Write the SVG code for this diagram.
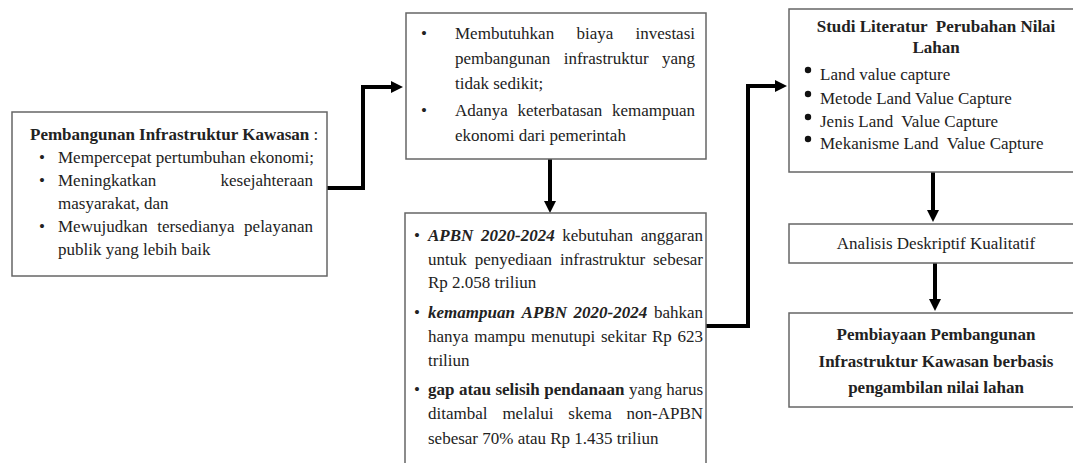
<svg xmlns="http://www.w3.org/2000/svg" width="1073" height="463" viewBox="0 0 1073 463">
<defs>
<marker id="arr" markerUnits="userSpaceOnUse" markerWidth="12" markerHeight="12" refX="2" refY="6" orient="auto">
<path d="M0,0 L12,6 L0,12 z" fill="#000"/>
</marker>
<style>
.box{fill:#fff;stroke:#666;stroke-width:1.5}
.t{font-family:"Liberation Serif","Times New Roman",serif;font-size:17px;fill:#222}
.b{font-weight:bold}
.bi{font-weight:bold;font-style:italic}
.c{text-anchor:middle}
.e{text-anchor:end}
.pre{white-space:pre}
.con{fill:none;stroke:#000;stroke-width:4}
</style>
</defs>
<rect width="1073" height="463" fill="#fff"/>
<g id="connectors">
<path class="con" d="M327,188 H363 V87 H393" marker-end="url(#arr)"/>
<path class="con" d="M550,159 V203" marker-end="url(#arr)"/>
<path class="con" d="M706,326 H748 V86 H777" marker-end="url(#arr)"/>
<path class="con" d="M933,172 V212" marker-end="url(#arr)"/>
<path class="con" d="M935,263 V301" marker-end="url(#arr)"/>
</g>
<g id="node-pembangunan">
<rect class="box" x="12" y="112" width="315" height="164"/>
<text class="t" x="30" y="140"><tspan class="b">Pembangunan Infrastruktur Kawasan</tspan> :</text>
<text class="t" x="39" y="163">•</text>
<text class="t" x="58" y="163">Mempercepat pertumbuhan ekonomi;</text>
<text class="t" x="39" y="186">•</text>
<text class="t" x="58" y="186">Meningkatkan</text>
<text class="t e" x="313" y="186">kesejahteraan</text>
<text class="t" x="58" y="209">masyarakat, dan</text>
<text class="t" x="39" y="232">•</text>
<text class="t" x="58" y="232">Mewujudkan<tspan x="157.2">tersedianya</tspan></text>
<text class="t e" x="313" y="232">pelayanan</text>
<text class="t" x="58" y="255">publik yang lebih baik</text>
</g>
<g id="node-kebutuhan">
<rect class="box" x="406" y="13" width="300" height="146"/>
<text class="t" x="421" y="39">•</text>
<text class="t" x="455" y="39">Membutuhkan<tspan x="576.5">biaya</tspan></text>
<text class="t e" x="695" y="39">investasi</text>
<text class="t" x="455" y="64">pembangunan<tspan x="563.7">infrastruktur</tspan></text>
<text class="t e" x="695" y="64">yang</text>
<text class="t" x="455" y="89">tidak sedikit;</text>
<text class="t" x="421" y="116">•</text>
<text class="t" x="455" y="116">Adanya<tspan x="517.4">keterbatasan</tspan></text>
<text class="t e" x="695" y="116">kemampuan</text>
<text class="t" x="455" y="141">ekonomi dari pemerintah</text>
</g>
<g id="node-apbn">
<rect class="box" x="405" y="213" width="301" height="270"/>
<text class="t" x="414" y="241" font-size="14">•</text>
<text class="t" x="428" y="241"><tspan class="bi">APBN</tspan><tspan class="bi" x="481">2020-2024</tspan><tspan x="562.3">kebutuhan</tspan></text>
<text class="t e" x="703" y="241">anggaran</text>
<text class="t" x="428" y="265">untuk<tspan x="474.7">penyediaan</tspan><tspan x="560.1">infrastruktur</tspan></text>
<text class="t e" x="703" y="265">sebesar</text>
<text class="t" x="428" y="288">Rp 2.058 triliun</text>
<text class="t" x="414" y="318" font-size="14">•</text>
<text class="t" x="428" y="318"><tspan class="bi">kemampuan</tspan><tspan class="bi" x="521.6">APBN</tspan><tspan class="bi" x="573.6">2020-2024</tspan></text>
<text class="t e" x="703" y="318">bahkan</text>
<text class="t" x="428" y="342">hanya<tspan x="474.3">mampu</tspan><tspan x="531">menutupi</tspan><tspan x="601">sekitar</tspan><tspan x="652">Rp</tspan></text>
<text class="t e" x="703" y="342">623</text>
<text class="t" x="428" y="366">triliun</text>
<text class="t" x="414" y="395" font-size="14">•</text>
<text class="t" x="428" y="395"><tspan class="b">gap</tspan><tspan class="b" x="458.9">atau</tspan><tspan class="b" x="495.4">selisih</tspan><tspan class="b" x="544.2">pendanaan</tspan><tspan x="628.9">yang</tspan></text>
<text class="t e" x="703" y="395">harus</text>
<text class="t" x="428" y="419">ditambal<tspan x="502.4">melalui</tspan><tspan x="568.3">skema</tspan></text>
<text class="t e" x="703" y="419">non-APBN</text>
<text class="t" x="428" y="444">sebesar 70% atau Rp 1.435 triliun</text>
</g>
<g id="node-studi">
<rect class="box" x="789" y="9" width="292" height="163"/>
<text class="t b c pre" x="936" y="32">Studi Literatur  Perubahan Nilai</text>
<text class="t b c" x="936" y="53">Lahan</text>
<circle cx="808" cy="70" r="3.2" fill="#111"/>
<text class="t" x="820" y="80">Land value capture</text>
<circle cx="808" cy="94" r="3.2" fill="#111"/>
<text class="t" x="820" y="104">Metode Land Value Capture</text>
<circle cx="808" cy="117" r="3.2" fill="#111"/>
<text class="t pre" x="820" y="127">Jenis Land  Value Capture</text>
<circle cx="808" cy="139" r="3.2" fill="#111"/>
<text class="t pre" x="820" y="149">Mekanisme Land  Value Capture</text>
</g>
<g id="node-analisis">
<rect class="box" x="789" y="224" width="292" height="39"/>
<text class="t c" x="936" y="249">Analisis Deskriptif Kualitatif</text>
</g>
<g id="node-pembiayaan">
<rect class="box" x="789" y="313" width="292" height="94"/>
<text class="t b c" x="936" y="340">Pembiayaan Pembangunan</text>
<text class="t b c" x="936" y="367">Infrastruktur Kawasan berbasis</text>
<text class="t b c" x="936" y="393">pengambilan nilai lahan</text>
</g>
</svg>
